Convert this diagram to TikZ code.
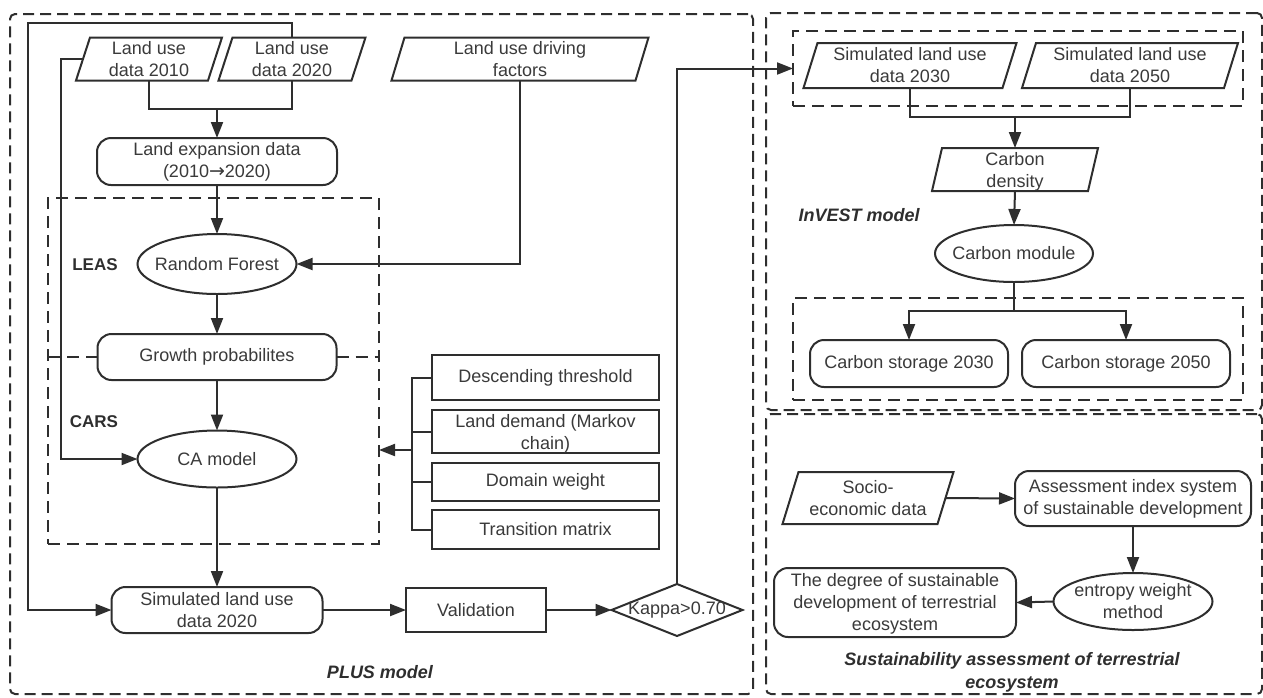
\documentclass[tikz,border=0pt]{standalone}
\usepackage{fontspec}
\setmainfont{Liberation Sans}
\newfontfamily\djv{DejaVu Sans}
\usetikzlibrary{shapes.geometric,arrows.meta}
\definecolor{lc}{HTML}{2E2E2E}
\definecolor{tc}{HTML}{3A3A3A}
\tikzset{
  ln/.style={draw=lc, line width=2pt},
  shp/.style={ln, inner sep=0pt, outer sep=0pt, fill=white},
  para/.style={inner sep=0pt, outer sep=0pt, rectangle},
  rbox/.style={shp, rectangle, rounded corners=14pt},
  sbox/.style={shp, rectangle},
  ell/.style={shp, ellipse},
  dia/.style={shp, diamond},
  arr/.style={ln, -{Triangle[length=16pt,width=12pt]}},
  dashbox/.style={draw=lc, line width=2pt, dash pattern=on 11pt off 6pt, rounded corners=5pt, inner sep=0pt, outer sep=0pt},
  dashin/.style={draw=lc, line width=2pt, dash pattern=on 12pt off 7pt, inner sep=0pt, outer sep=0pt},
  txt/.style={font=\fontsize{18}{22}\selectfont, text=tc, align=center, inner sep=0pt},
  tx/.style={label={[txt]center:{#1}}},
  ttl/.style={font=\fontsize{18}{23}\selectfont\bfseries\itshape, text=lc, align=center, inner sep=0pt},
  sub/.style={font=\fontsize{17}{20}\selectfont\bfseries, text=lc, inner sep=0pt}
}
% outline of a parallelogram around a rectangle node: #1 node name, #2 half slant
\newcommand\drawpara[2]{%
  \draw[ln, line join=miter] ([xshift=-#2]#1.south west) -- ([xshift=#2]#1.north west)
    -- ([xshift=#2]#1.north east) -- ([xshift=-#2]#1.south east) -- cycle;}
\begin{document}
\begin{tikzpicture}[x=1pt,y=-1pt]
\useasboundingbox (0,0) rectangle (1263,697);

% containers
\node[dashbox, minimum width=743pt, minimum height=680pt] (plus) at (381.5,354) {};
\node[dashbox, minimum width=496pt, minimum height=397pt] (inv) at (1014,211.5) {};
\node[dashbox, minimum width=496pt, minimum height=280pt] (sus) at (1014,554) {};
\node[dashin, minimum width=331pt, minimum height=346pt] (inner) at (213.5,371) {};
\node[dashin, minimum width=450pt, minimum height=75pt] (simbox) at (1018,68.5) {};
\node[dashin, minimum width=450pt, minimum height=102pt] (storbox) at (1018,349) {};

% PLUS model nodes
\node[para, minimum width=132pt, minimum height=43pt, tx={Land use\\data 2010}] (ld10) at (149,59) {};
\node[para, minimum width=133pt, minimum height=43pt, tx={Land use\\data 2020}] (ld20) at (292,59) {};
\node[para, minimum width=244pt, minimum height=43pt, tx={Land use driving\\factors}] (ldf) at (520,59) {};
\node[rbox, minimum width=240pt, minimum height=47pt, tx={Land expansion data\\(2010{\djv\fontsize{19}{22}\selectfont →}2020)}] (lexp) at (217,161.5) {};
\node[ell, minimum width=159pt, minimum height=60pt, tx={Random Forest}] (rf) at (217,264) {};
\node[rbox, minimum width=239pt, minimum height=46pt, tx={Growth probabilites}] (gp) at (217,357) {};
\node[ell, minimum width=159pt, minimum height=57pt, tx={CA model}] (ca) at (217,459) {};
\node[rbox, minimum width=211pt, minimum height=46pt, tx={Simulated land use\\data 2020}] (sim20) at (217,610) {};
\node[sbox, minimum width=140pt, minimum height=44pt, tx={Validation}] (val) at (476,610) {};
\node[dia, minimum width=131pt, minimum height=52pt, aspect=2.5, label={[txt]center:{Kappa>0.70}}] (kap) at (677,610) {};

\node[sbox, minimum width=227pt, minimum height=45pt, tx={Descending threshold}] (dt) at (545.5,377.5) {};
\node[sbox, minimum width=227pt, minimum height=43pt, label={[txt,yshift=-2pt]center:{Land demand (Markov\\chain)}}] (lm) at (545.5,431.5) {};
\node[sbox, minimum width=227pt, minimum height=38pt, tx={Domain weight}] (dw) at (545.5,482) {};
\node[sbox, minimum width=227pt, minimum height=39pt, tx={Transition matrix}] (tm) at (545.5,529.5) {};

\node[sub] (leas) at (95,265) {LEAS};
\node[sub] (cars) at (94,422) {CARS};
\node[ttl] (plusl) at (380,672) {PLUS model};

% InVEST nodes
\node[para, minimum width=199pt, minimum height=45pt, tx={Simulated land use\\data 2030}] (s30) at (910,65.5) {};
\node[para, minimum width=202pt, minimum height=45pt, tx={Simulated land use\\data 2050}] (s50) at (1130,65.5) {};
\node[para, minimum width=156pt, minimum height=43pt, label={[txt,yshift=-2pt]center:{Carbon\\density}}] (cd) at (1015,169.5) {};
\node[ell, minimum width=158pt, minimum height=57pt, tx={Carbon module}] (cm) at (1014,253.5) {};
\node[rbox, minimum width=198pt, minimum height=47pt, tx={Carbon storage 2030}] (cs30) at (909,363.5) {};
\node[rbox, minimum width=208pt, minimum height=47pt, tx={Carbon storage 2050}] (cs50) at (1126,363.5) {};
\node[ttl] (invl) at (859,215) {InVEST model};

% Sustainability nodes
\node[para, minimum width=155pt, minimum height=52pt, tx={Socio-\\economic data}] (se) at (868,498) {};
\node[rbox, minimum width=236pt, minimum height=55pt, tx={Assessment index system\\of sustainable development}] (ai) at (1133,498.5) {};
\node[ell, minimum width=159pt, minimum height=57pt, tx={entropy weight\\method}] (ew) at (1133,601.5) {};
\node[rbox, minimum width=242pt, minimum height=69pt, label={[txt,yshift=-1pt]center:{The degree of sustainable\\development of terrestrial\\ecosystem}}] (dg) at (895,602.5) {};
\node[ttl] (susl) at (1012,672.5) {Sustainability assessment of terrestrial\\ecosystem};

% parallelogram outlines
\drawpara{ld10}{7pt}
\drawpara{ld20}{7pt}
\drawpara{ldf}{6.5pt}
\drawpara{s30}{7pt}
\drawpara{s50}{7pt}
\drawpara{cd}{5pt}
\drawpara{se}{8pt}

% coordinates
\coordinate (fbA) at (28,23);
\coordinate (fbB) at (61,59);
\coordinate (m1) at (217,109);
\coordinate (brk) at (412,450);
\coordinate (m2) at (1015,117);
\coordinate (sp) at (1014,311);

% connectors PLUS
\draw[ln] (ld10.south) |- (m1);
\draw[ln] (ld20.south) |- (m1);
\draw[arr] (m1) -- (lexp.north);
\draw[arr] (lexp.south) -- (rf.north);
\draw[arr] (ldf.south) |- (rf.east);
\draw[arr] (rf.south) -- (gp.north);
\draw[arr] (gp.south) -- (ca.north);
\draw[arr] (ca.south) -- (sim20.north);
\draw[arr] (sim20.east) -- (val.west);
\draw[arr] (val.east) -- (kap.west);
\draw[arr] (ld20.north) |- (fbA) |- (sim20.west);
\draw[arr] (ld10.west) -- (fbB) |- (ca.west);
\draw[dashin] (inner.west |- gp.west) -- (gp.west);
\draw[dashin] (gp.east) -- (inner.east |- gp.east);
\draw[ln] (dt.west) -| (brk);
\draw[ln] (tm.west) -| (brk);
\draw[ln] (lm.west) -- (lm.west -| brk);
\draw[ln] (dw.west) -- (dw.west -| brk);
\draw[arr] (brk) -- (inner.east |- brk);
\draw[arr] (kap.north) |- (simbox.west);

% connectors InVEST
\draw[ln] (s30.south) |- (m2);
\draw[ln] (s50.south) |- (m2);
\draw[arr] (m2) -- (cd.north);
\draw[arr] (cd.south) -- (cm.north);
\draw[ln] (cm.south) -- (sp);
\draw[arr] (sp) -| (cs30.north);
\draw[arr] (sp) -| (cs50.north);

% connectors Sustainability
\draw[arr] (se.east) -- (ai.west);
\draw[arr] (ai.south) -- (ew.north);
\draw[arr] (ew.west) -- (dg.east);
\end{tikzpicture}
\end{document}
